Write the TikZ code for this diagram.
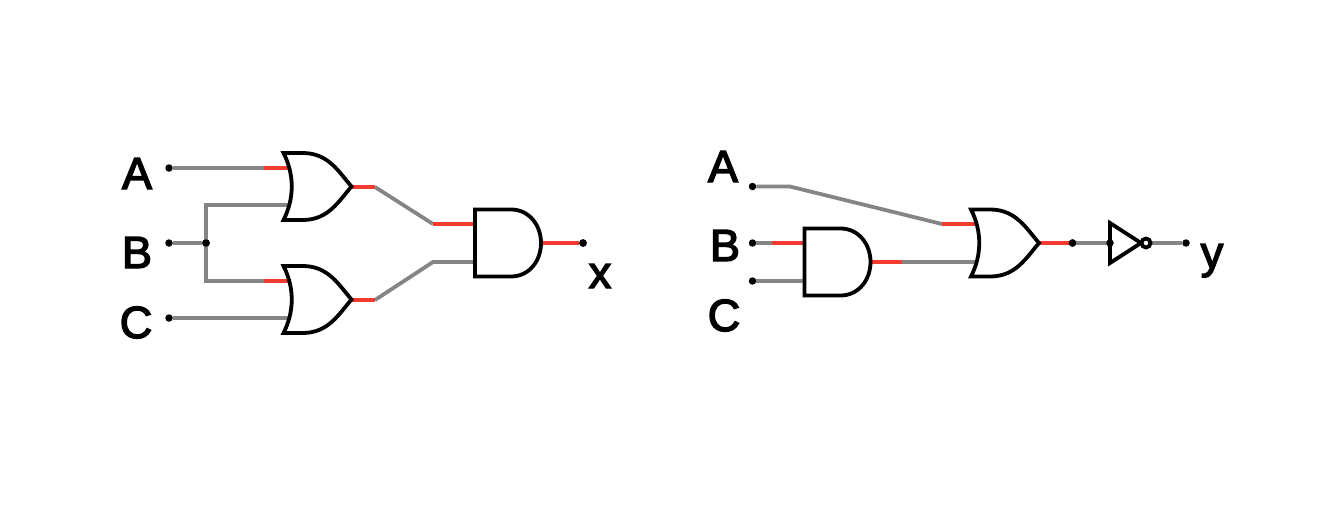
\documentclass[tikz,border=0pt]{standalone}
\usepackage{fontspec}
\setmainfont[FakeBold=3.2]{Liberation Sans}
\definecolor{wiregray}{HTML}{858585}
\definecolor{hotred}{HTML}{F23A2E}
\tikzset{
  wire/.style={draw=wiregray,line width=3.8pt,line join=miter},
  hot/.style={draw=hotred,line width=3.8pt},
  gate/.style={draw=black,fill=white,line width=3.8pt,line join=miter},
  dot/.style={circle,fill=black,inner sep=0pt,minimum size=7.5pt},
  lab/.style={inner sep=0pt,anchor=base,font=\fontsize{45}{45}\selectfont},
  orgate/.pic={
    \draw[gate] (0,-33.5) -- (20,-33.5) .. controls (45,-33) and (55,-15) .. (68,0)
      .. controls (55,15) and (45,33) .. (20,33.5) -- (0,33.5)
      .. controls (11,12) and (11,-12) .. (0,-33.5) -- cycle;
  },
  andgate/.pic={
    \draw[gate] (0,-33.5) -- (36,-33.5) .. controls (54,-33.5) and (66,-18) .. (66,0)
      .. controls (66,18) and (54,33.5) .. (36,33.5) -- (0,33.5) -- cycle;
  },
  notgate/.pic={
    \draw[gate] (0,-20) -- (31,0) -- (0,20) -- cycle;
    \draw[gate] (36,0) circle (4.5);
  }
}
\begin{document}
\begin{tikzpicture}[x=1pt,y=-1pt]
\useasboundingbox (0,0) rectangle (1318,506);
% left circuit: terminals
\node[dot] (la) at (169,168) {};
\node[dot] (lb) at (169,243) {};
\node[dot] (lc) at (169,318) {};
\node[dot] (lj) at (206,243) {};
\node[dot] (lx) at (583,243) {};
\coordinate (lup) at (206,205);
\coordinate (ldn) at (206,281);
\coordinate (k1) at (375,187);
\coordinate (k2) at (375,300);
\coordinate (k3) at (433,224);
\coordinate (k4) at (433,262);
% right circuit: terminals
\node[dot] (ra) at (752.5,186.5) {};
\node[dot] (rb) at (752.5,243) {};
\node[dot] (rc) at (752.5,281) {};
\node[dot] (rm) at (1072.5,243) {};
\node[dot] (ry) at (1186,243) {};
\coordinate (k5) at (790,186.5);
\coordinate (k6) at (942,224);
\coordinate (k7) at (772,243);
\coordinate (k8) at (902,262);
% gate pin coordinates
\coordinate (g1a) at (288,168); \coordinate (g1b) at (288,205);
\coordinate (g2a) at (288,281); \coordinate (g2b) at (288,318);
\coordinate (g1o) at (351,187); \coordinate (g2o) at (351,300);
\coordinate (g3a) at (475,224); \coordinate (g3b) at (475,262);
\coordinate (g3o) at (541,243);
\coordinate (g4a) at (804.5,243); \coordinate (g4b) at (804.5,281);
\coordinate (g4o) at (870.5,262);
\coordinate (g5a) at (976,224); \coordinate (g5b) at (976,262);
\coordinate (g5o) at (1039,243);
\coordinate (g6a) at (1110,243); \coordinate (g6o) at (1150,243);
\coordinate (s1) at (264,168); \coordinate (s2) at (264,281);
% gray wires
\draw[wire] (la) -- (g1a);
\draw[wire] (lb) -- (lj);
\draw[wire] (g1b) -- (lup) -- (ldn) -- (g2a);
\draw[wire] (lc) -- (g2b);
\draw[wire] (k1) -- (k3);
\draw[wire] (k2) -- (k4) -- (g3b);
\draw[wire] (ra) -- (k5) -- (k6);
\draw[wire] (rb) -- (k7);
\draw[wire] (rc) -- (g4b);
\draw[wire] (k8) -- (g5b);
\draw[wire] (rm) -- (g6a);
\draw[wire] (g6o) -- (ry);
% red wires
\draw[hot] (s1) -- (g1a);
\draw[hot] (s2) -- (g2a);
\draw[hot] (g1o) -- (k1);
\draw[hot] (g2o) -- (k2);
\draw[hot] (k3) -- (g3a);
\draw[hot] (g3o) -- (lx);
\draw[hot] (k7) -- (g4a);
\draw[hot] (g4o) -- (k8);
\draw[hot] (k6) -- (g5a);
\draw[hot] (g5o) -- (rm);
% gates
\pic (orA) at (283.5,186.5) {orgate};
\pic (orB) at (283.5,299.5) {orgate};
\pic (andA) at (475,243) {andgate};
\pic (andB) at (804.5,262) {andgate};
\pic (orC) at (971,243) {orgate};
\pic (notA) at (1110,243) {notgate};
% dots over the gates and wires
\node[dot] (lx2) at (lx) {};
\node[dot] (lj2) at (lj) {};
\node[dot] (rm2) at (rm) {};
\node[dot] (ni) at (g6a) {};
% labels
\node[lab] (tA) at (137,189) {A};
\node[lab] (tB) at (137,268) {B};
\node[lab] (tC) at (136,338) {C};
\node[lab] (tx) at (600,288) {x};
\node[lab] (uA) at (723,182) {A};
\node[lab] (uB) at (725,261) {B};
\node[lab] (uC) at (724,331) {C};
\node[lab] (uy) at (1212,268) {y};
\end{tikzpicture}
\end{document}
